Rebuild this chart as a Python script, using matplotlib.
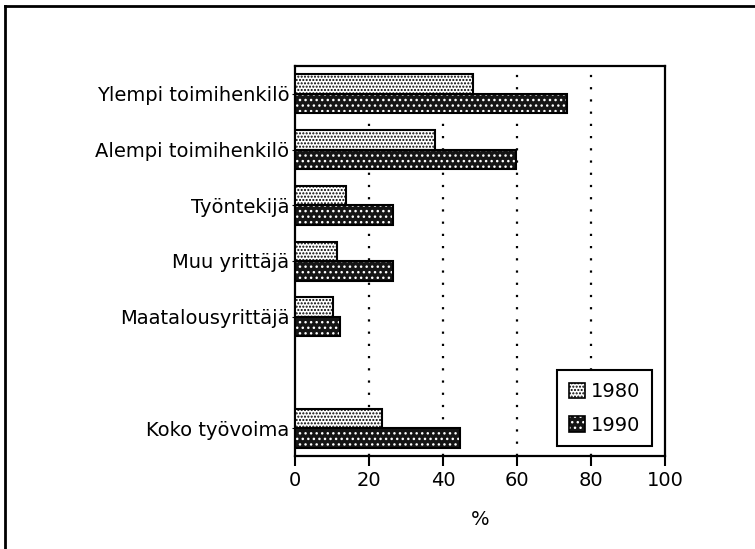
import matplotlib
matplotlib.use("Agg")
import matplotlib.pyplot as plt
from matplotlib.patches import Patch
from matplotlib.lines import Line2D
import numpy as np

plt.rcParams['font.family'] = ['DejaVu Sans']
plt.rcParams['hatch.linewidth'] = 1.0

categories = ["Ylempi toimihenkilö", "Alempi toimihenkilö", "Työntekijä",
              "Muu yrittäjä", "Maatalousyrittäjä", "", "Koko työvoima"]
v1980 = [48.0, 37.9, 13.7, 11.3, 10.4, np.nan, 23.4]
v1990 = [73.4, 59.7, 26.4, 26.4, 12.2, np.nan, 44.6]
series_labels = ["1980", "1990"]
xticks = [0, 20, 40, 60, 80, 100]

fig = plt.figure(figsize=(7.55, 5.49), dpi=100)
ax = fig.add_axes([295/755, 1-456/549, 370/755, 390/549])

y = np.arange(len(categories))
h = 0.35
fs = 14

# 1980: white with black dots
ax.barh(y - h/2, v1980, height=h, facecolor='white', edgecolor='black',
        hatch='.....', linewidth=1.5, zorder=3)
# 1990: black with white dots
ax.barh(y + h/2, v1990, height=h, facecolor='#151515', edgecolor='white',
        hatch='...', linewidth=0, zorder=3)
ax.barh(y + h/2, v1990, height=h, facecolor='none', edgecolor='black',
        linewidth=1.5, zorder=4)

ax.set_xlim(0, 100)
ax.set_ylim(6.5, -0.5)
ax.set_xticks(xticks)
ax.set_xticklabels([str(t) for t in xticks], fontsize=fs)
ax.set_yticks([i for i, c in enumerate(categories) if c])
ax.set_yticklabels([c for c in categories if c], fontsize=fs)
ax.tick_params(axis='x', length=7, width=1.5, pad=4, direction='out')
ax.tick_params(axis='y', length=2, width=0.8, pad=2, direction='out')
for s in ax.spines.values():
    s.set_linewidth(1.6)

for t in [20, 40, 60, 80]:
    ax.axvline(t, color='black', linestyle=(0, (1, 4.5)), linewidth=1.6, zorder=1)

ax.set_xlabel("%", fontsize=fs, labelpad=14)

h1 = Patch(facecolor='white', edgecolor='black', hatch='.....', linewidth=1.2)
h2a = Patch(facecolor='#151515', edgecolor='white', hatch='...', linewidth=0)
h2b = Patch(facecolor='none', edgecolor='black', linewidth=1.2)
leg = ax.legend([h1, (h2a, h2b)], series_labels, loc='lower right',
                bbox_to_anchor=(0.965, 0.025), fontsize=fs, frameon=True,
                fancybox=False, edgecolor='black', framealpha=1,
                handlelength=0.85, handleheight=0.85, handletextpad=0.3,
                labelspacing=0.75, borderpad=0.6, borderaxespad=0)
leg.get_frame().set_linewidth(1.5)
leg.set_zorder(5)

# page frame lines (left and top)
fig.add_artist(Line2D([5/755, 5/755], [0, 1-6/549], color='black', linewidth=2,
                      transform=fig.transFigure))
fig.add_artist(Line2D([5/755, 1], [1-6/549, 1-6/549], color='black', linewidth=2,
                      transform=fig.transFigure))

fig.savefig("out.png", dpi=100)
